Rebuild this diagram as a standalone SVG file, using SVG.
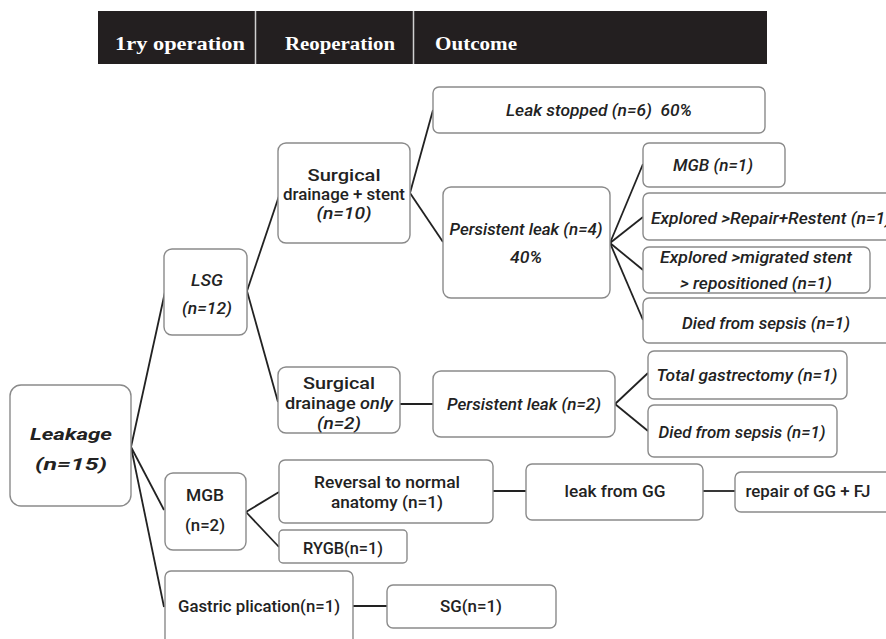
<svg xmlns="http://www.w3.org/2000/svg" width="886" height="639" viewBox="0 0 886 639">
<style>
.box{fill:#fff;stroke:#8a8a8a;stroke-width:1.4}
.hd{font-family:"Liberation Serif","Times New Roman",serif;font-weight:bold;font-size:19px;fill:#fff}
.t{font-family:Roboto,"Noto Sans",sans-serif;font-size:16px;font-weight:500;fill:#222;text-anchor:middle}
.i{font-style:italic}
.b{font-weight:bold}
.c line{stroke:#222;stroke-width:1.8}
</style>
<rect width="886" height="639" fill="#fff"/>
<g id="header">
<rect x="98" y="11" width="669" height="53" fill="#231f20"/>
<line x1="255.5" y1="11" x2="255.5" y2="64" stroke="#d0d0d0" stroke-width="1.5"/>
<line x1="413.5" y1="11" x2="413.5" y2="64" stroke="#d0d0d0" stroke-width="1.5"/>
<text class="hd" x="115" y="50" textLength="130" lengthAdjust="spacingAndGlyphs">1ry operation</text>
<text class="hd" x="285" y="50" textLength="110" lengthAdjust="spacingAndGlyphs">Reoperation</text>
<text class="hd" x="435" y="50" textLength="82" lengthAdjust="spacingAndGlyphs">Outcome</text>
</g>
<g class="c" id="connectors">
<line x1="131" y1="447" x2="165" y2="292"/>
<line x1="131" y1="447" x2="164" y2="510"/>
<line x1="131" y1="447" x2="164" y2="607"/>
<line x1="247" y1="291" x2="279" y2="196"/>
<line x1="247" y1="291" x2="278" y2="402"/>
<line x1="410" y1="193" x2="433" y2="110"/>
<line x1="410" y1="193" x2="443" y2="242"/>
<line x1="610" y1="243" x2="643" y2="164"/>
<line x1="610" y1="243" x2="643" y2="217"/>
<line x1="610" y1="243" x2="643" y2="270"/>
<line x1="610" y1="243" x2="643" y2="320"/>
<line x1="400" y1="404" x2="433" y2="404"/>
<line x1="615" y1="404" x2="648" y2="373"/>
<line x1="615" y1="404" x2="648" y2="431"/>
<line x1="246" y1="512" x2="279" y2="492"/>
<line x1="246" y1="512" x2="279" y2="547"/>
<line x1="493" y1="491" x2="526" y2="491"/>
<line x1="703" y1="491" x2="735" y2="491"/>
<line x1="353" y1="606" x2="387" y2="606"/>
</g>
<g id="leakage">
<rect class="box" x="10" y="385" width="121" height="121" rx="11"/>
<text class="t i b" x="71" y="440" font-size="20" textLength="82" lengthAdjust="spacingAndGlyphs">Leakage</text>
<text class="t i b" x="71" y="470" font-size="20" textLength="72" lengthAdjust="spacingAndGlyphs">(n=15)</text>
</g>
<g id="lsg">
<rect class="box" x="164" y="249" width="83" height="86" rx="8"/>
<text class="t i" x="207" y="286" textLength="32" lengthAdjust="spacingAndGlyphs">LSG</text>
<text class="t i" x="207" y="314" textLength="50" lengthAdjust="spacingAndGlyphs">(n=12)</text>
</g>
<g id="sd-stent">
<rect class="box" x="278" y="143" width="132" height="100" rx="8"/>
<text class="t" x="344" y="181" textLength="73" lengthAdjust="spacingAndGlyphs">Surgical</text>
<text class="t" x="344" y="200" textLength="122" lengthAdjust="spacingAndGlyphs">drainage + stent</text>
<text class="t i" x="344" y="219" textLength="55" lengthAdjust="spacingAndGlyphs">(n=10)</text>
</g>
<g id="leak-stopped">
<rect class="box" x="433" y="87" width="332" height="46" rx="6"/>
<text class="t i" x="599" y="116" textLength="186" lengthAdjust="spacingAndGlyphs" xml:space="preserve">Leak stopped (n=6)  60%</text>
</g>
<g id="persistent-4">
<rect class="box" x="443" y="187" width="167" height="111" rx="8"/>
<text class="t i" x="526" y="235" textLength="153" lengthAdjust="spacingAndGlyphs">Persistent leak (n=4)</text>
<text class="t i" x="526" y="263" textLength="32" lengthAdjust="spacingAndGlyphs">40%</text>
</g>
<g id="mgb-1">
<rect class="box" x="643" y="143" width="142" height="44" rx="6"/>
<text class="t i" x="713" y="171" textLength="80" lengthAdjust="spacingAndGlyphs">MGB (n=1)</text>
</g>
<g id="explored-repair">
<rect class="box" x="643" y="193" width="252" height="47" rx="6"/>
<text class="t i" x="651" y="224" style="text-anchor:start" textLength="240" lengthAdjust="spacingAndGlyphs">Explored &gt;Repair+Restent (n=1)</text>
</g>
<g id="explored-migrated">
<rect class="box" x="643" y="247" width="227" height="46" rx="6"/>
<text class="t i" x="756" y="263" textLength="192" lengthAdjust="spacingAndGlyphs">Explored &gt;migrated stent</text>
<text class="t i" x="756" y="289" textLength="152" lengthAdjust="spacingAndGlyphs">&gt; repositioned (n=1)</text>
</g>
<g id="died-1">
<rect class="box" x="643" y="298" width="252" height="45" rx="6"/>
<text class="t i" x="766" y="329" textLength="168" lengthAdjust="spacingAndGlyphs">Died from sepsis (n=1)</text>
</g>
<g id="sd-only">
<rect class="box" x="278" y="367" width="122" height="66" rx="8"/>
<text class="t" x="339" y="389" textLength="72" lengthAdjust="spacingAndGlyphs">Surgical</text>
<text class="t" x="339" y="409" textLength="108" lengthAdjust="spacingAndGlyphs">drainage <tspan class="i">only</tspan></text>
<text class="t i" x="339" y="429" textLength="44" lengthAdjust="spacingAndGlyphs">(n=2)</text>
</g>
<g id="persistent-2">
<rect class="box" x="433" y="371" width="182" height="66" rx="8"/>
<text class="t i" x="524" y="410" textLength="154" lengthAdjust="spacingAndGlyphs">Persistent leak (n=2)</text>
</g>
<g id="total-gastrectomy">
<rect class="box" x="648" y="351" width="199" height="48" rx="6"/>
<text class="t i" x="747" y="381" textLength="181" lengthAdjust="spacingAndGlyphs">Total gastrectomy (n=1)</text>
</g>
<g id="died-2">
<rect class="box" x="648" y="405" width="189" height="52" rx="6"/>
<text class="t i" x="742" y="438" textLength="167" lengthAdjust="spacingAndGlyphs">Died from sepsis (n=1)</text>
</g>
<g id="mgb-2">
<rect class="box" x="165" y="473" width="81" height="77" rx="8"/>
<text class="t" x="205" y="501" textLength="38" lengthAdjust="spacingAndGlyphs">MGB</text>
<text class="t" x="205" y="531" textLength="40" lengthAdjust="spacingAndGlyphs">(n=2)</text>
</g>
<g id="reversal">
<rect class="box" x="279" y="460" width="214" height="63" rx="6"/>
<text class="t" x="387" y="488" textLength="146" lengthAdjust="spacingAndGlyphs">Reversal to normal</text>
<text class="t" x="387" y="508" textLength="112" lengthAdjust="spacingAndGlyphs">anatomy (n=1)</text>
</g>
<g id="leak-gg">
<rect class="box" x="526" y="464" width="177" height="56" rx="6"/>
<text class="t" x="615" y="497" textLength="101" lengthAdjust="spacingAndGlyphs">leak from GG</text>
</g>
<g id="repair-gg">
<rect class="box" x="735" y="472" width="160" height="40" rx="6"/>
<text class="t" x="808" y="497" textLength="125" lengthAdjust="spacingAndGlyphs">repair of GG + FJ</text>
</g>
<g id="rygb">
<rect class="box" x="279" y="530" width="128" height="33" rx="4"/>
<text class="t" x="343" y="554" textLength="80" lengthAdjust="spacingAndGlyphs">RYGB(n=1)</text>
</g>
<g id="gastric-plication">
<rect class="box" x="165" y="571" width="188" height="80" rx="6"/>
<text class="t" x="259" y="612" textLength="162" lengthAdjust="spacingAndGlyphs">Gastric plication(n=1)</text>
</g>
<g id="sg">
<rect class="box" x="387" y="585" width="169" height="43" rx="6"/>
<text class="t" x="471" y="612" textLength="62" lengthAdjust="spacingAndGlyphs">SG(n=1)</text>
</g>
</svg>
